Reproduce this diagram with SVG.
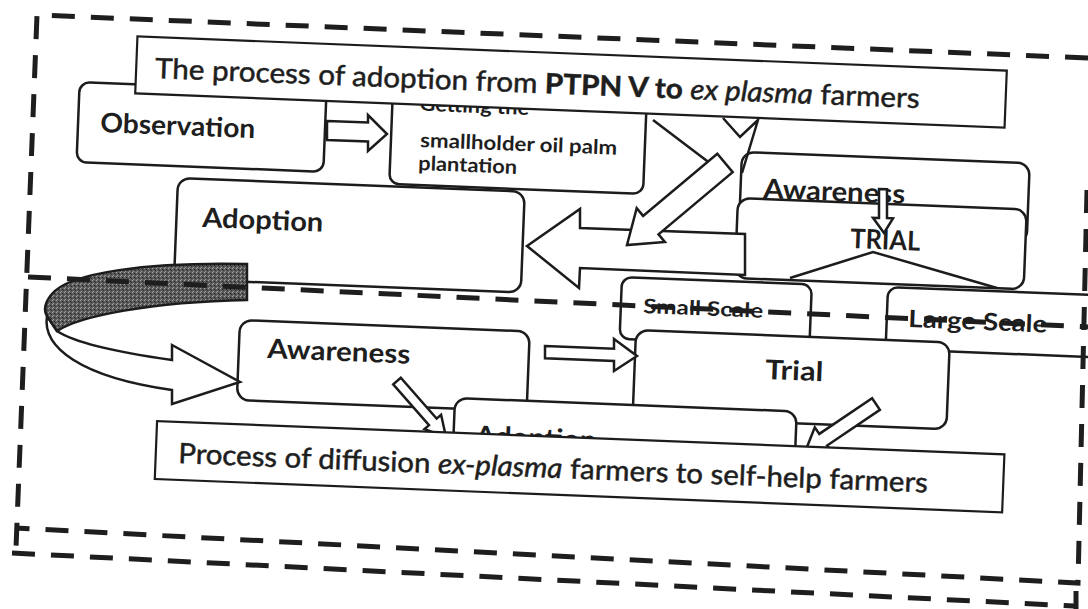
<svg xmlns="http://www.w3.org/2000/svg" width="1088" height="609" viewBox="0 0 1088 609">
<defs>
<style>
.box{fill:#fff;stroke:#1c1c1c;stroke-width:2.5}
.ttl{fill:#fff;stroke:#1c1c1c;stroke-width:2.2}
.arr{fill:#fff;stroke:#1c1c1c;stroke-width:2.5;stroke-linejoin:miter}
.ln{fill:none;stroke:#1c1c1c;stroke-width:2.5}
.dash{fill:none;stroke:#1e1e1e;stroke-width:5;stroke-dasharray:23 16}
text{font-family:Lato,"Open Sans","Liberation Sans",sans-serif;fill:#1e1e1e}
.b{font-weight:bold}
.lbl{font-size:27px;font-weight:bold}
.t{font-size:28px;stroke:#1e1e1e;stroke-width:0.5}
</style>
<pattern id="stip" width="4" height="4" patternUnits="userSpaceOnUse">
<rect width="4" height="4" fill="#5c5c5c"/>
<rect x="0" y="0" width="1" height="1" fill="#aaa"/>
<rect x="2" y="1" width="1" height="1" fill="#222"/>
<rect x="1" y="3" width="1" height="1" fill="#999"/>
<rect x="3" y="2" width="1" height="1" fill="#333"/>
</pattern>
</defs>
<rect width="1088" height="609" fill="#fff"/>

<g id="observation" transform="rotate(2.25 201.5 127)">
<rect class="box" x="78" y="87" width="247" height="80" rx="10"/>
<text class="lbl" x="100.3" y="136" textLength="155" lengthAdjust="spacingAndGlyphs">Observation</text>
</g>
<g id="getting" transform="rotate(2.25 518 141.5)">
<rect class="box" x="391" y="94" width="254" height="95" rx="10"/>
<text class="b" font-size="20" x="418" y="114.5" textLength="110" lengthAdjust="spacingAndGlyphs">Getting the</text>
<text class="b" font-size="20" x="420.3" y="150.8" textLength="197" lengthAdjust="spacingAndGlyphs">smallholder oil palm</text>
<text class="b" font-size="20" x="419.2" y="173.9" textLength="99" lengthAdjust="spacingAndGlyphs">plantation</text>
</g>
<g id="adoption-upper" transform="rotate(2.25 349.4 235.3)">
<rect class="box" x="175.9" y="184.8" width="347" height="101" rx="12"/>
<text class="lbl" x="201.8" y="232.8" textLength="121" lengthAdjust="spacingAndGlyphs">Adoption</text>
</g>
<g id="awareness-upper" transform="rotate(2.25 884.3 197.6)">
<rect class="box" x="740.3" y="157.6" width="288" height="80" rx="12"/>
<text class="lbl" x="763.1" y="202.8" textLength="142" lengthAdjust="spacingAndGlyphs">Awareness</text>
</g>
<g id="trial-upper" transform="rotate(2.25 880.8 243.7)">
<rect class="box" x="736.3" y="203.7" width="289" height="80" rx="12"/>
<text class="lbl" x="850.2" y="249.2" textLength="70" lengthAdjust="spacingAndGlyphs">TRIAL</text>
</g>
<g id="small-scale" transform="rotate(2.25 715.7 311.7)">
<rect class="box" x="620.7" y="280.7" width="190" height="62" rx="10"/>
<text class="b" font-size="20" x="643.1" y="315.9" textLength="120" lengthAdjust="spacingAndGlyphs">Small Scale</text>
</g>
<g id="large-scale" transform="rotate(2.25 1011.7 322.9)">
<rect class="box" x="886.7" y="291.9" width="250" height="62" rx="10"/>
<text class="b" font-size="24" x="908.3" y="331.1" textLength="139" lengthAdjust="spacingAndGlyphs">Large Scale</text>
</g>
<g id="trial-lower" transform="rotate(2.25 791.2 379.7)">
<rect class="box" x="634.2" y="336.2" width="314" height="87" rx="12"/>
<text class="lbl" x="765" y="380" textLength="58" lengthAdjust="spacingAndGlyphs">Trial</text>
</g>
<g id="awareness-lower" transform="rotate(2.25 383.3 365.7)">
<rect class="box" x="238.3" y="325.7" width="290" height="80" rx="12"/>
<text class="lbl" x="266.8" y="362.6" textLength="143" lengthAdjust="spacingAndGlyphs">Awareness</text>
</g>
<g id="adoption-lower" transform="rotate(2.25 624.3 444.7)">
<rect class="box" x="453.3" y="404.7" width="342" height="80" rx="12"/>
<text class="lbl" x="475.1" y="450.9" textLength="121" lengthAdjust="spacingAndGlyphs">Adoption</text>
</g>

<g id="connectors">
<polygon class="arr" points="327,121 368,122.5 368,115 387,134 368,151 368,141.5 327,140"/>
<path class="ln" d="M653,120 L715,167 M723,118 L740,137 L758,120 L742,173"/>
<polygon class="arr" points="527,246 580,209 580,228 745,234 745,275 580,268 579,288"/>
<polygon class="arr" points="627,245 636.7,208.2 643.1,215.9 717.3,153.8 732.7,172.2 658.5,234.3 664.9,242"/>
<polygon class="arr" stroke-width="2" points="879,189 887,189.3 887,218 893,218.3 884,233 873,217.8 879,218"/>
<polyline class="ln" points="790,278 873,252 997,288"/>
<polygon class="arr" points="545,346 614,348.7 614,339 637,356 614,371 614,361 545,358.3"/>
<polygon class="arr" points="446,437 441.1,414.7 436.6,418.6 400.8,377.7 393.2,384.3 429,425.2 424.5,429.1"/>
<polygon class="arr" points="805,452 814.8,427.3 819.3,433.9 872.1,398.2 879.9,409.8 827.1,445.5 831.6,452.1"/>
<path class="arr" d="M47,316 C42,347 80,377 172,390 L172,404 L240,382 L172,345 L172,360 C115,352 75,343 57,331 Z"/>
<path fill="url(#stip)" stroke="#1c1c1c" stroke-width="2.5" d="M247,264 C150,262 68,272 51,295 C44,304 44,311 47,316 L57,331 C80,316 150,302 247,300 Z"/>
</g>

<g id="title-adoption" transform="rotate(2.25 571 82)">
<rect class="ttl" x="136" y="53.5" width="870" height="57"/>
<text class="t" x="155" y="94.3" textLength="765" lengthAdjust="spacingAndGlyphs">The process of adoption from <tspan class="b">PTPN V to</tspan> <tspan font-style="italic">ex plasma</tspan> farmers</text>
</g>
<g id="title-diffusion" transform="rotate(2.25 579.6 466.7)">
<rect class="ttl" x="155.6" y="437.7" width="848" height="58"/>
<text class="t" x="178.2" y="478.8" textLength="750" lengthAdjust="spacingAndGlyphs">Process of diffusion <tspan font-style="italic">ex-plasma</tspan> farmers to self-help farmers</text>
</g>

<g id="frames">
<path class="dash" d="M1088,58 L37,15 L16,548"/>
<path class="dash" d="M28,277 L1088,327"/>
<path class="dash" d="M1087,190 L1078,583 L15,528"/>
<path class="dash" d="M12,553 L1074,606 M1076,591 L1076,609"/>
</g>
</svg>
